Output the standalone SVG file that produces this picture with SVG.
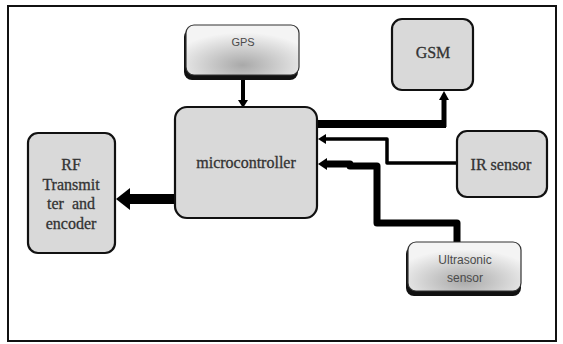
<svg xmlns="http://www.w3.org/2000/svg" width="563" height="344" viewBox="0 0 563 344">
  <defs>
    <radialGradient id="shade" cx="0.5" cy="0.8" r="0.65">
      <stop offset="0" stop-color="#a9a9a9"/>
      <stop offset="1" stop-color="#f4f4f4"/>
    </radialGradient>
    <style>
      .box { fill: #d9d9d9; stroke: #111; stroke-width: 2.2; }
      .gbox { fill: url(#shade); stroke: #333; stroke-width: 1.2; }
      .shadow { fill: #111; }
      .serif { font-family: "Liberation Serif", "DejaVu Serif", serif; font-size: 16px; fill: #333; stroke: #333; stroke-width: 0.3; text-anchor: middle; white-space: pre; }
      .sans { font-family: "Liberation Sans", "DejaVu Sans", sans-serif; fill: #4a4a4a; text-anchor: middle; }
      .wire { fill: none; stroke: #000; stroke-linejoin: round; }
      .head { fill: #000; }
    </style>
  </defs>
  <rect width="563" height="344" fill="#fff"/>
  <rect x="8" y="6" width="548" height="335" fill="none" stroke="#111" stroke-width="2"/>

  <g id="connectors">
    <!-- GPS -> microcontroller -->
    <path class="wire" d="M243,76 V101" stroke-width="4"/>
    <polygon class="head" points="238,100 248,100 243,108"/>
    <!-- microcontroller -> GSM -->
    <path class="wire" d="M318,124 H446" stroke-width="8"/>
    <path class="wire" d="M444,127 V99" stroke-width="5"/>
    <polygon class="head" points="439,100 449,100 444,91"/>
    <!-- IR sensor -> microcontroller -->
    <path class="wire" d="M457,163 H387 V139 H325" stroke-width="3.5"/>
    <polygon class="head" points="326,134 326,144 318,139"/>
    <!-- Ultrasonic sensor -> microcontroller -->
    <path class="wire" d="M457,243 V223 H377 V166 H350 V164 H326" stroke-width="7"/>
    <polygon class="head" points="327,158 327,170 318,164"/>
    <!-- microcontroller -> RF transmitter -->
    <path class="wire" d="M174,199 H128" stroke-width="10"/>
    <polygon class="head" points="130,188 130,210 116,199"/>
  </g>

  <g id="gps">
    <rect class="shadow" x="184" y="29" width="114" height="51" rx="8"/>
    <rect class="gbox" x="186" y="25" width="113" height="50" rx="8"/>
    <text class="sans" x="243" y="46" font-size="11">GPS</text>
  </g>

  <g id="gsm">
    <rect class="box" x="392" y="19" width="81" height="71" rx="10"/>
    <text class="serif" x="433" y="58">GSM</text>
  </g>

  <g id="microcontroller">
    <rect class="box" x="175" y="107" width="142" height="111" rx="12"/>
    <text class="serif" x="246" y="168">microcontroller</text>
  </g>

  <g id="rf">
    <rect class="box" x="28" y="133" width="87" height="120" rx="10"/>
    <text class="serif" x="71" y="170">RF</text>
    <text class="serif" x="71" y="190">Transmit</text>
    <text class="serif" x="71" y="209" xml:space="preserve">ter  and</text>
    <text class="serif" x="71" y="229">encoder</text>
  </g>

  <g id="ir">
    <rect class="box" x="457" y="131" width="90" height="66" rx="10"/>
    <text class="serif" x="501" y="170">IR sensor</text>
  </g>

  <g id="ultrasonic">
    <rect class="shadow" x="406" y="246" width="115" height="50" rx="8"/>
    <rect class="gbox" x="408" y="242" width="113" height="49" rx="8"/>
    <text class="sans" x="465" y="264" font-size="12">Ultrasonic</text>
    <text class="sans" x="465" y="282" font-size="12">sensor</text>
  </g>
</svg>
